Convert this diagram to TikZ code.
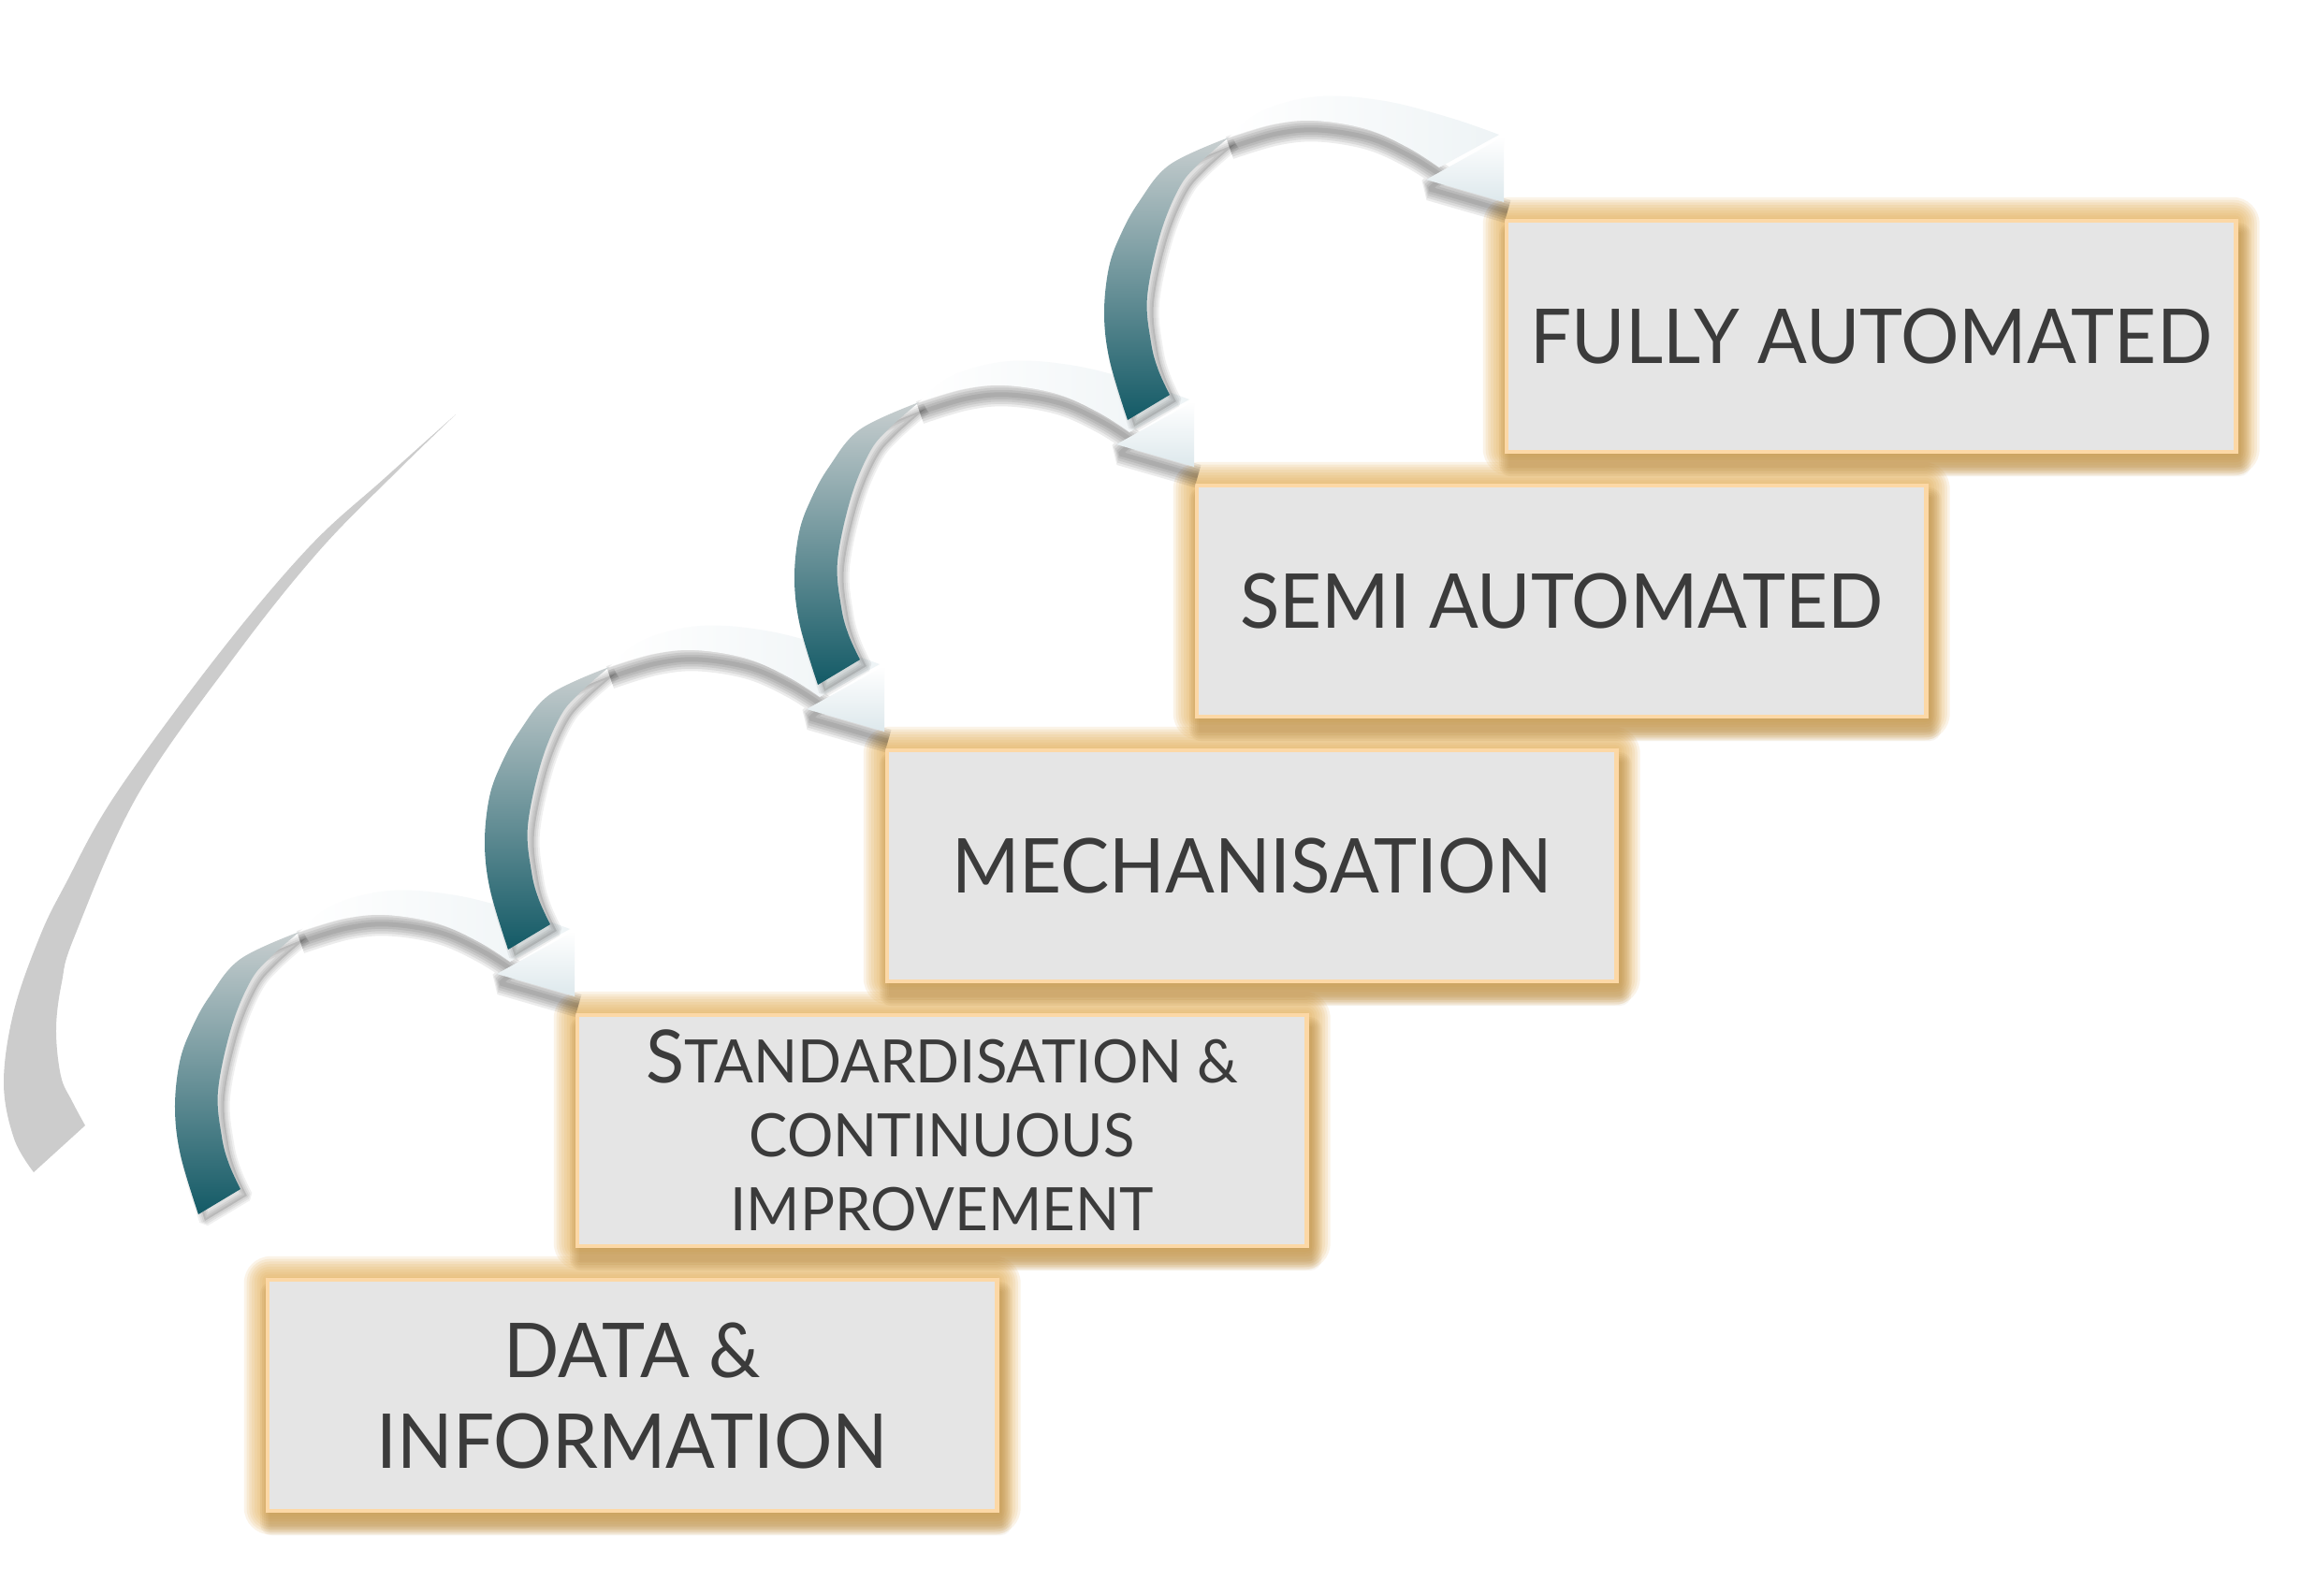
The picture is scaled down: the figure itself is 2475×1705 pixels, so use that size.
\documentclass[tikz,border=0pt]{standalone}
\usepackage{fontspec}
\setmainfont{Lato}[FakeStretch=0.965]
\usetikzlibrary{backgrounds}
\definecolor{glowc}{HTML}{E6B25E}
\definecolor{shadc}{HTML}{A57A35}
\definecolor{boxfill}{HTML}{E5E5E5}
\definecolor{boxline}{HTML}{FCD8A6}
\definecolor{txt}{HTML}{3B3B3B}
\definecolor{swooshc}{HTML}{CCCCCC}
\definecolor{tealA}{HTML}{C9CFD0}
\definecolor{tealB}{HTML}{86A0A5}
\definecolor{tealC}{HTML}{135A66}
\definecolor{headB}{HTML}{DDE8EC}
\tikzset{
  stepbox/.style={draw=boxline, line width=0.045cm, fill=boxfill,
    minimum width=7.79cm, minimum height=2.47cm, inner sep=0pt, outer sep=0pt,
    anchor=north west, text=txt, align=center, font=\fontsize{23}{27.6}\selectfont},
  arrowshadow/.style={black, opacity=0.06, line join=bevel, line cap=butt},
}
\newcommand\crespath{plot[smooth, tension=0.6] coordinates {(-405,213) (-424,150) (-430,100) (-425,50) (-412,14) (-393,-20) (-360,-60) (-297,-89)} -- plot[smooth, tension=0.6] coordinates {(-297,-89) (-330,-60) (-350,-35) (-370,14) (-384,81) (-380,130) (-372,160) (-360,186)} -- cycle}
\newcommand\bandpath{plot[smooth, tension=0.6] coordinates {(-297,-89) (-250,-103) (-205,-107) (-150,-98) (-105,-78) (-72,-57)} -- (-8,-92) -- plot[smooth, tension=0.6] coordinates {(-8,-92) (-60,-110) (-130,-128) (-200,-133) (-260,-118) (-297,-89)} -- cycle}
\newcommand\bandlow{plot[smooth, tension=0.6] coordinates {(-300,-88) (-250,-103) (-205,-107) (-150,-98) (-105,-78) (-72,-57)} -- (-86,-44) -- (-3,-20)}
\newcommand\headpath{(-86,-44) -- (-3,-90) -- (-3,-20) -- cycle}
\begin{document}
\begin{tikzpicture}[x=0.01cm, y=-0.01cm]
\useasboundingbox (0,0) rectangle (2475,1705);
% swoosh
\fill[swooshc] plot[smooth, tension=0.6] coordinates {(487,443) (410,512) (330,585) (233,700) (123,850) (70,945) (43,1000) (15,1080) (4,1157) (15,1217) (36,1253)}
  -- plot[smooth, tension=0.6] coordinates {(91,1203) (77,1177) (65,1150) (60,1100) (66,1050) (80,1000) (147,850) (252,700) (340,590) (420,508) (487,443)} -- cycle;
% boxes
\node[stepbox] (d0) at (286,1368) {DATA \&\\INFORMATION};
\node[stepbox, font=\fontsize{18.2}{22.5}\selectfont] (d1) at (617,1085) {{\fontsize{22.3}{22.5}\selectfont S}TANDARDISATION \&\\CONTINUOUS\\IMPROVEMENT};
\node[stepbox] (d2) at (948,802) {MECHANISATION};
\node[stepbox] (d3) at (1279,519) {SEMI AUTOMATED};
\node[stepbox] (d4) at (1610,236) {FULLY AUTOMATED};
\begin{scope}[on background layer]
  \fill[white] (0,0) rectangle (2475,1705);
  \foreach \n in {d0,d1,d2,d3,d4}{
    \foreach \k in {1,...,9}{
      \fill[glowc, opacity=0.15, rounded corners={\k*0.9pt}] ([shift={(-2.8*\k,-2.8*\k)}]\n.north west) rectangle ([shift={(2.8*\k,2.8*\k)}]\n.south east);
    }
    \foreach \k in {1,...,6}{
      \fill[shadc, opacity=0.08, rounded corners={\k*0.6pt}] ([shift={(4-2*\k,14-2*\k)}]\n.north west) rectangle ([shift={(4+2*\k,14+2*\k)}]\n.south east);
    }
  }
\end{scope}
% curved arrows
\foreach \t in {d1,d2,d3,d4}{
  \begin{scope}[shift={(\t.north west)}]
    \begin{scope}[shift={(7,7)}]
      \fill[black, opacity=0.12] \crespath;
      \foreach \w in {0.04,0.08,0.12}{
        \draw[arrowshadow, line width=\w cm] \crespath;
      }
    \end{scope}
    \begin{scope}[shift={(4,10)}]
      \foreach \w in {0.05,0.10,0.15,0.20,0.25}{
        \draw[arrowshadow, opacity=0.075, line width=\w cm] \bandlow;
      }
    \end{scope}
    \shade[top color=tealA, middle color=tealB, bottom color=tealC] \crespath;
    \shade[left color=white, right color=headB!50] \bandpath;
    \shade[top color=white, bottom color=headB] \headpath;
  \end{scope}
}
\end{tikzpicture}
\end{document}
